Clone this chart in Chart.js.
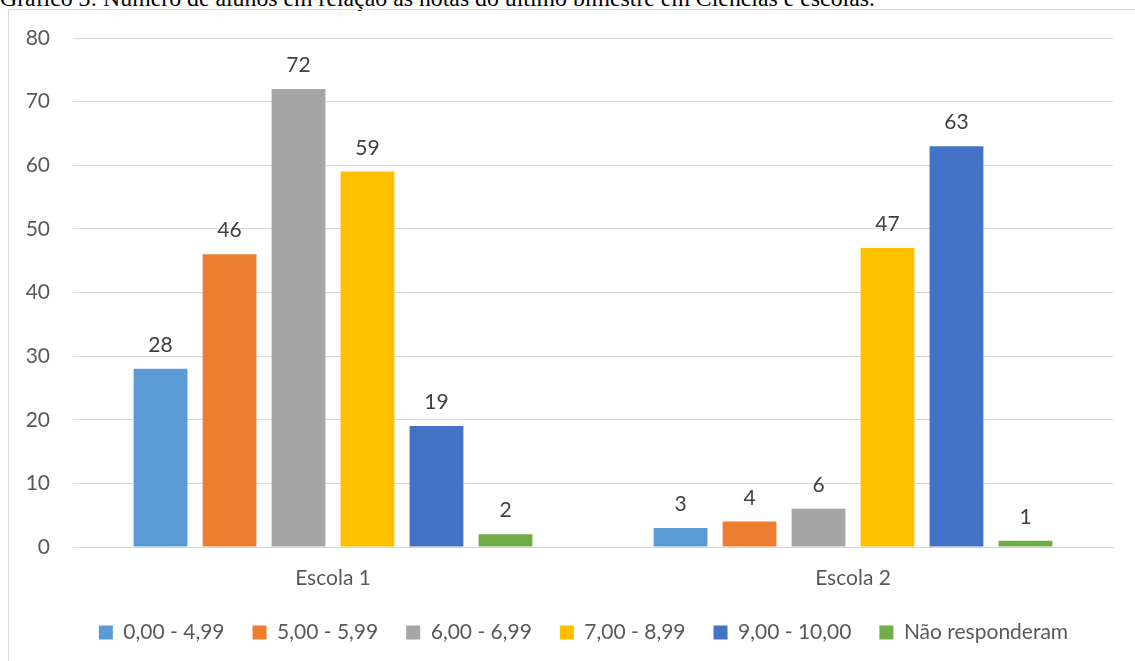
<!DOCTYPE html>
<html>
<head>
<meta charset="utf-8">
<script src="https://cdn.jsdelivr.net/npm/chart.js@4"></script>
<style>
  body { margin: 0; background: #fff; width: 1135px; height: 661px; overflow: hidden; position: relative; }
  #title { position: absolute; left: 0; top: -14px; font-family: "Liberation Serif", "Times New Roman", serif; font-size: 23.8px; line-height: 24px; color: #000; white-space: nowrap; }
  #frame { position: absolute; left: 8px; top: 9px; width: 1200px; height: 700px; border: 1px solid #d9d9d9; }
  #wrap { position: absolute; left: 0; top: 0; width: 1135px; height: 661px; }
</style>
</head>
<body>
<div id="title">Gráfico 3: Número de alunos em relação às notas do último bimestre em Ciências e escolas.</div>
<div id="frame"></div>
<div id="wrap"><canvas id="myChart"></canvas></div>
<script>
// categories and series
const escolas = ['Escola 1', 'Escola 2'];
const faixas = ['0,00 - 4,99', '5,00 - 5,99', '6,00 - 6,99', '7,00 - 8,99', '9,00 - 10,00', 'Não responderam'];
const nota0a4 = [28, 3];
const nota5 = [46, 4];
const nota6 = [72, 6];
const nota7a8 = [59, 47];
const nota9a10 = [19, 63];
const naoResp = [2, 1];
const cores = ['#5B9BD5', '#ED7D31', '#A5A5A5', '#FFC000', '#4472C4', '#70AD47'];

const series = [nota0a4, nota5, nota6, nota7a8, nota9a10, naoResp];
const fonte = "Lato, 'Open Sans', sans-serif";

// draws the value above each bar
const valueLabels = {
    id: 'valueLabels',
    afterDatasetsDraw(chart) {
        const ctx = chart.ctx;
        ctx.save();
        ctx.font = '21px ' + fonte;
        ctx.fillStyle = '#404040';
        ctx.textAlign = 'center';
        ctx.textBaseline = 'alphabetic';
        chart.data.datasets.forEach((ds, i) => {
            chart.getDatasetMeta(i).data.forEach((bar, j) => {
                ctx.fillText(ds.data[j], bar.x, bar.y - 17);
            });
        });
        ctx.restore();
    }
};

// legend sits a bit right of the canvas centre in the original
const shiftLegend = {
    id: 'shiftLegend',
    afterLayout(chart) {
        chart.legend.left += 27;
        chart.legend.right += 27;
    }
};

new Chart(document.getElementById('myChart'), {
    type: 'bar',
    data: {
        labels: escolas,
        datasets: faixas.map((f, i) => ({
            label: f,
            data: series[i],
            backgroundColor: cores[i],
            categoryPercentage: 0.796,
            barPercentage: 0.78
        }))
    },
    options: {
        responsive: true,
        maintainAspectRatio: false,
        animation: false,
        layout: { padding: { left: 0, right: 22, top: 38, bottom: 8 } },
        scales: {
            x: {
                grid: { display: false },
                border: { color: '#d9d9d9', width: 1 },
                ticks: { color: '#595959', font: { family: fonte, size: 21 }, padding: 11 },
                afterFit(scale) { scale.height = 47; }
            },
            y: {
                min: 0,
                max: 80,
                ticks: { stepSize: 10, color: '#595959', font: { family: fonte, size: 21 }, padding: 23 },
                grid: { color: '#d9d9d9', drawTicks: false },
                border: { display: false },
                afterFit(scale) { scale.width = 73; }
            }
        },
        plugins: {
            legend: {
                position: 'bottom',
                labels: {
                    color: '#595959',
                    font: { family: fonte, size: 21 },
                    boxWidth: 14,
                    boxHeight: 14,
                    padding: 28
                }
            },
            tooltip: { enabled: false }
        }
    },
    plugins: [valueLabels, shiftLegend]
});
</script>
</body>
</html>
